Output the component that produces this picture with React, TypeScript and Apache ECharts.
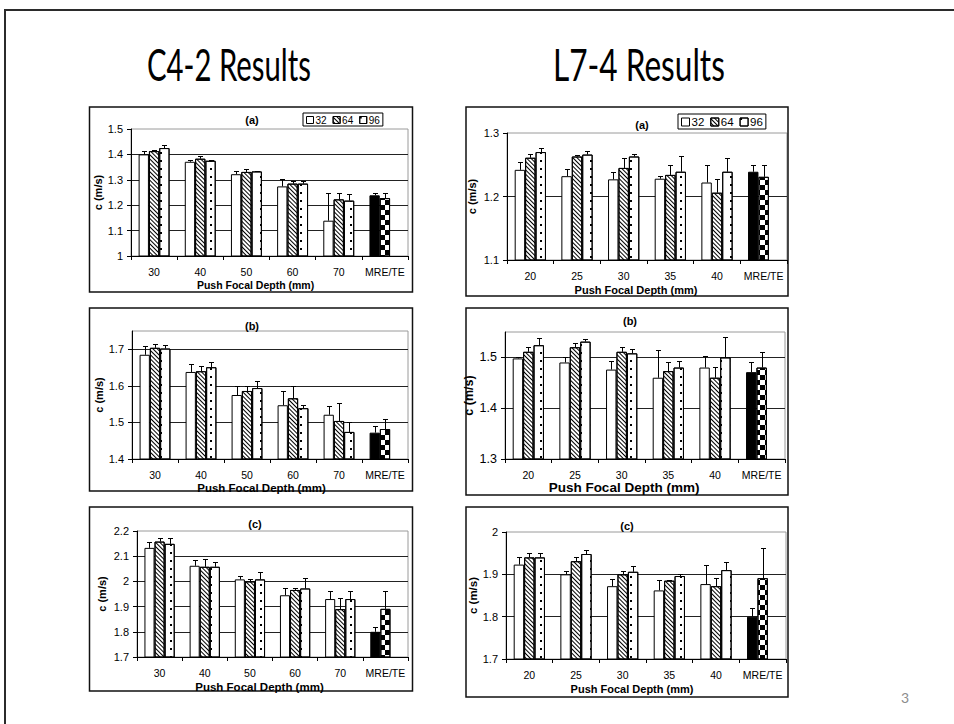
import React, { useEffect, useRef } from 'react';
import * as echarts from 'echarts';

// ---------- data ----------
const c4Categories = ['30', '40', '50', '60', '70', 'MRE/TE'];
const l7Categories = ['20', '25', '30', '35', '40', 'MRE/TE'];
const elementNames = ['32', '64', '96'];

// C4-2 (a)
const c4a32 = [1.400, 1.371, 1.322, 1.274, 1.139, 1.239];
const c4a64 = [1.413, 1.383, 1.331, 1.285, 1.223, 1.228];
const c4a96 = [1.425, 1.375, 1.333, 1.285, 1.218, null];
const c4a32Err = [0.015, 0.006, 0.013, 0.028, 0.109, 0.009];
const c4a64Err = [0.006, 0.009, 0.012, 0.012, 0.025, 0.020];
const c4a96Err = [0.012, 0.003, 0.003, 0.012, 0.025, null];

// C4-2 (b)
const c4b32 = [1.685, 1.638, 1.575, 1.547, 1.521, 1.472];
const c4b64 = [1.704, 1.640, 1.586, 1.566, 1.504, 1.482];
const c4b96 = [1.702, 1.651, 1.594, 1.539, 1.474, null];
const c4b32Err = [0.023, 0.021, 0.024, 0.038, 0.024, 0.019];
const c4b64Err = [0.011, 0.015, 0.013, 0.033, 0.048, 0.027];
const c4b96Err = [0.009, 0.013, 0.018, 0.010, 0.027, null];

// C4-2 (c)
const c4c32 = [2.133, 2.062, 2.008, 1.945, 1.930, 1.800];
const c4c64 = [2.158, 2.058, 2.000, 1.966, 1.890, 1.891];
const c4c96 = [2.149, 2.058, 2.008, 1.972, 1.930, null];
const c4c32Err = [0.025, 0.021, 0.012, 0.030, 0.030, 0.018];
const c4c64Err = [0.016, 0.029, 0.008, 0.009, 0.045, 0.070];
const c4c96Err = [0.025, 0.020, 0.030, 0.040, 0.030, null];

// L7-4 (a)
const l7a32 = [1.242, 1.232, 1.227, 1.228, 1.222, 1.239];
const l7a64 = [1.261, 1.263, 1.245, 1.234, 1.206, 1.231];
const l7a96 = [1.270, 1.266, 1.263, 1.239, 1.239, null];
const l7a32Err = [0.012, 0.012, 0.011, 0.004, 0.028, 0.011];
const l7a64Err = [0.006, 0.002, 0.016, 0.015, 0.022, 0.019];
const l7a96Err = [0.007, 0.005, 0.004, 0.025, 0.022, null];

// L7-4 (b)
const l7b32 = [1.498, 1.490, 1.476, 1.460, 1.480, 1.471];
const l7b64 = [1.511, 1.520, 1.511, 1.473, 1.460, 1.480];
const l7b96 = [1.524, 1.531, 1.508, 1.480, 1.500, null];
const l7b32Err = [0.002, 0.010, 0.017, 0.054, 0.023, 0.020];
const l7b64Err = [0.009, 0.008, 0.009, 0.017, 0.022, 0.031];
const l7b96Err = [0.015, 0.006, 0.008, 0.012, 0.041, null];

// L7-4 (c)
const l7c32 = [1.923, 1.900, 1.872, 1.862, 1.877, 1.800];
const l7c64 = [1.940, 1.931, 1.900, 1.885, 1.872, 1.891];
const l7c96 = [1.940, 1.948, 1.906, 1.896, 1.910, null];
const l7c32Err = [0.017, 0.009, 0.017, 0.024, 0.046, 0.020];
const l7c64Err = [0.011, 0.009, 0.007, 0.001, 0.019, 0.071];
const l7c96Err = [0.011, 0.010, 0.013, 0.005, 0.019, null];

const pageTitles = ['C4-2 Results', 'L7-4 Results'];
const panelLetters = ['(a)', '(b)', '(c)'];
const yAxisName = 'c (m/s)';
const xAxisName = 'Push Focal Depth (mm)';
const pageNumber = '3';

// ---------- layout ----------
const ARIAL = 'Liberation Sans, Arial, sans-serif';
const GAP = 0.33;

const panels = [
  { cats: c4Categories, vals: [c4a32, c4a64, c4a96], errs: [c4a32Err, c4a64Err, c4a96Err], letter: 0,
    grid: { left: 131, top: 129, width: 277, height: 127 }, box: [89.5, 107, 323, 185],
    min: 1, max: 1.5, showMax: true, titlePos: [252, 120], xName: [255.5, 285], yNameGap: 25,
    yLabel: 11, xNameSize: 10.5, yNameSize: 11, legend: { left: 303, top: 113, size: 10, icon: 7 } },
  { cats: c4Categories, vals: [c4b32, c4b64, c4b96], errs: [c4b32Err, c4b64Err, c4b96Err], letter: 1,
    grid: { left: 132, top: 331, width: 276, height: 128 }, box: [89.5, 308, 323, 183],
    min: 1.4, max: 1.75, showMax: false, titlePos: [252, 326], xName: [261.5, 488], yNameGap: 25,
    yLabel: 11, xNameSize: 11.5, yNameSize: 11 },
  { cats: c4Categories, vals: [c4c32, c4c64, c4c96], errs: [c4c32Err, c4c64Err, c4c96Err], letter: 2,
    grid: { left: 137, top: 531, width: 271, height: 126 }, box: [89.5, 507, 323, 184],
    min: 1.7, max: 2.2, showMax: true, titlePos: [255, 524], xName: [259.5, 687], yNameGap: 30,
    yLabel: 11, xNameSize: 11.5, yNameSize: 11 },
  { cats: l7Categories, vals: [l7a32, l7a64, l7a96], errs: [l7a32Err, l7a64Err, l7a96Err], letter: 0,
    grid: { left: 507, top: 133, width: 280, height: 127 }, box: [466, 107, 322, 189],
    min: 1.1, max: 1.3, showMax: true, titlePos: [642, 125], xName: [636, 290], yNameGap: 30,
    yLabel: 11, xNameSize: 11, yNameSize: 11, legend: { left: 678, top: 114, size: 11.5, icon: 8 } },
  { cats: l7Categories, vals: [l7b32, l7b64, l7b96], errs: [l7b32Err, l7b64Err, l7b96Err], letter: 1,
    grid: { left: 505, top: 332, width: 280, height: 127 }, box: [466, 308, 322, 187],
    min: 1.3, max: 1.55, showMax: false, titlePos: [630, 321], xName: [624, 487], yNameGap: 23,
    yLabel: 12.5, xNameSize: 13.5, yNameSize: 12.5 },
  { cats: l7Categories, vals: [l7c32, l7c64, l7c96], errs: [l7c32Err, l7c64Err, l7c96Err], letter: 2,
    grid: { left: 506, top: 532, width: 280, height: 127 }, box: [466, 507, 322, 190],
    min: 1.7, max: 2.0, showMax: true, titlePos: [627, 526], xName: [632, 689], yNameGap: 24,
    yLabel: 11, xNameSize: 11, yNameSize: 11.5 },
];

const hatchDecal = {
  symbol: 'rect', symbolSize: 1, color: '#000', backgroundColor: '#fff',
  dashArrayX: [1, 0], dashArrayY: [1, 2], rotation: Math.PI / 4,
};
const dotDecal = {
  symbol: 'rect', symbolSize: 1, color: '#000', backgroundColor: '#fff',
  dashArrayX: [2, 8], dashArrayY: [2, 6], rotation: 0,
};
const checkerDecal = {
  symbol: 'rect', symbolSize: 1, color: '#000', backgroundColor: '#fff',
  dashArrayX: [[5, 5], [0, 5, 5, 0]], dashArrayY: [5, 0], rotation: 0,
};
const seriesDecals = [null, hatchDecal, dotDecal];

function renderErr(params: any, api: any) {
  const ci = api.value(0);
  const base = api.coord([ci, api.value(1)]);
  const top = api.coord([ci, api.value(2)]);
  const band = api.size([1, 0])[0];
  const bw = (band * (1 - GAP)) / 3;
  const x = Math.round(base[0] + (api.value(3) - 1) * bw) + 0.5;
  const ty = Math.round(top[1]) + 0.5;
  return {
    type: 'group',
    children: [
      { type: 'line', shape: { x1: x, y1: base[1], x2: x, y2: ty }, style: { stroke: '#000', lineWidth: 1 } },
      { type: 'line', shape: { x1: x - 2.5, y1: ty, x2: x + 2.5, y2: ty }, style: { stroke: '#000', lineWidth: 1 } },
    ],
  };
}

function measure(text: string, font: string) {
  const c = document.createElement('canvas').getContext('2d');
  if (!c) return 1;
  c.font = font;
  return c.measureText(text).width || 1;
}

function buildOption() {
  const grid: any[] = [];
  const xAxis: any[] = [];
  const yAxis: any[] = [];
  const series: any[] = [];
  const legend: any[] = [];
  const graphic: any[] = [];

  // slide frame
  graphic.push({
    type: 'polyline', z: 0, silent: true,
    shape: { points: [[5, 724], [5, 10], [954, 10]] },
    style: { stroke: '#2b2b2b', lineWidth: 2, fill: null },
  });

  // page titles
  const titleFont = 'Lato, sans-serif';
  const titleSize = 44;
  const titleSpans = [[147, 311], [553, 725]];
  pageTitles.forEach((t, i) => {
    const w = measure(t, `${titleSize}px Lato`);
    graphic.push({
      type: 'text', x: titleSpans[i][0], y: 64, scaleX: (titleSpans[i][1] - titleSpans[i][0]) / w,
      silent: true,
      style: { text: t, fontSize: titleSize, fontFamily: titleFont, fill: '#000', align: 'left', verticalAlign: 'middle' },
    });
  });

  graphic.push({
    type: 'text', x: 905, y: 697, silent: true,
    style: { text: pageNumber, fontSize: 14, fontFamily: titleFont, fill: '#8c8c8c', align: 'center', verticalAlign: 'middle' },
  });

  panels.forEach((p, pi) => {
    graphic.push({
      type: 'rect', silent: true, z: 0,
      shape: { x: p.box[0], y: p.box[1], width: p.box[2], height: p.box[3] },
      style: { fill: 'none', stroke: '#111', lineWidth: 1.5 },
    });
    graphic.push({
      type: 'text', x: p.titlePos[0], y: p.titlePos[1], silent: true,
      style: { text: panelLetters[p.letter], fontSize: 11, fontWeight: 'bold', fontFamily: ARIAL, fill: '#000', align: 'center', verticalAlign: 'middle' },
    });
    graphic.push({
      type: 'text', x: p.xName[0], y: p.xName[1], silent: true,
      style: { text: xAxisName, fontSize: p.xNameSize, fontWeight: 'bold', fontFamily: ARIAL, fill: '#000', align: 'center', verticalAlign: 'middle' },
    });

    grid.push({ ...p.grid, show: true, borderColor: '#9a9a9a', borderWidth: 1, backgroundColor: 'transparent', containLabel: false });

    xAxis.push({
      type: 'category', gridIndex: pi, data: p.cats,
      axisLine: { show: true, lineStyle: { color: '#000', width: 1 } },
      axisTick: { show: true, length: 4, alignWithLabel: false, lineStyle: { color: '#000' } },
      axisLabel: { color: '#000', fontSize: 10.5, fontFamily: ARIAL, margin: 10, interval: 0 },
      splitLine: { show: false },
    });

    yAxis.push({
      type: 'value', gridIndex: pi, min: p.min, max: p.max, interval: 0.1,
      axisLine: { show: true, lineStyle: { color: '#000', width: 1 } },
      axisTick: { show: true, length: 4, lineStyle: { color: '#000' } },
      axisLabel: { color: '#000', fontSize: p.yLabel, fontFamily: ARIAL, margin: 8, showMaxLabel: p.showMax },
      splitLine: { show: true, showMinLine: false, showMaxLine: false, lineStyle: { color: '#222', width: 1 } },
      name: yAxisName, nameLocation: 'middle', nameGap: p.yNameGap,
      nameTextStyle: { fontWeight: 'bold', fontSize: p.yNameSize, fontFamily: ARIAL, color: '#000' },
    });

    const last = p.cats.length - 1;
    p.vals.forEach((vals, si) => {
      const data = vals.map((v, ci) => {
        if (ci !== last) return v;
        if (si === 0) return { value: v, itemStyle: { color: '#000', borderColor: '#000' } };
        if (si === 1) return { value: v, itemStyle: { color: '#fff', decal: checkerDecal } };
        return null;
      });
      const itemStyle: any = { color: '#fff', borderColor: '#000', borderWidth: 1 };
      if (seriesDecals[si]) itemStyle.decal = seriesDecals[si];
      series.push({
        type: 'bar', name: elementNames[si], xAxisIndex: pi, yAxisIndex: pi,
        barGap: '0%', barCategoryGap: `${GAP * 100}%`,
        itemStyle, data, z: 2, silent: true,
      });
    });

    const errData: any[] = [];
    p.vals.forEach((vals, si) => vals.forEach((v, ci) => {
      const e = p.errs[si][ci];
      if (v != null && e != null) errData.push([ci, v, v + e, si]);
    }));
    series.push({
      type: 'custom', xAxisIndex: pi, yAxisIndex: pi, data: errData,
      encode: { x: 0, y: [1, 2] }, renderItem: renderErr, z: 5, silent: true, clip: false,
    });

    if (p.legend) {
      legend.push({
        data: elementNames, left: p.legend.left, top: p.legend.top, orient: 'horizontal',
        icon: 'rect', itemWidth: p.legend.icon, itemHeight: p.legend.icon, itemGap: 6,
        padding: [2, 3, 1, 3], borderColor: '#000', borderWidth: 1, backgroundColor: '#fff',
        selectedMode: false,
        textStyle: { fontSize: p.legend.size, fontFamily: ARIAL, color: '#000', padding: [0, 0, 0, -3] },
        itemStyle: { borderColor: '#000', borderWidth: 1 },
      });
    }
  });

  return {
    animation: false,
    backgroundColor: '#fff',
    textStyle: { fontFamily: ARIAL },
    grid, xAxis, yAxis, series, legend, graphic,
  };
}

export default function App() {
  const ref = useRef<HTMLDivElement>(null);
  useEffect(() => {
    if (!ref.current) return;
    const chart = echarts.init(ref.current, null, { renderer: 'svg' });
    chart.setOption(buildOption() as any);
    return () => chart.dispose();
  }, []);
  return (
    <div
      ref={ref}
      style={{ position: 'absolute', left: 0, top: 0, width: 954, height: 724, background: '#fff' }}
    />
  );
}
